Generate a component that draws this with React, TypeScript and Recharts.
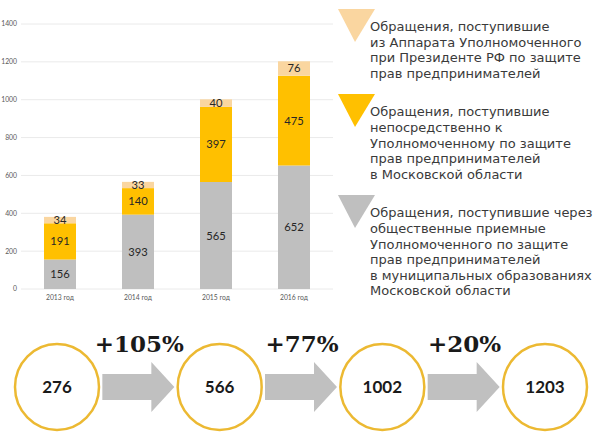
import React from 'react';
import {
  BarChart,
  Bar,
  XAxis,
  YAxis,
  CartesianGrid,
  LabelList,
  Legend,
  ScatterChart,
  Scatter,
} from 'recharts';

// ---- data ----
const categories = ['2013 год', '2014 год', '2015 год', '2016 год'];
const viaReception = [156, 393, 565, 652];
const directToOmbudsman = [191, 140, 397, 475];
const fromFederalOffice = [34, 33, 40, 76];
const yTicks = [0, 200, 400, 600, 800, 1000, 1200, 1400];
const totals = [276, 566, 1002, 1203];
const growth = ['+105%', '+77%', '+20%'];

const nameFederal =
  'Обращения, поступившие\nиз Аппарата Уполномоченного\nпри Президенте РФ по защите\nправ предпринимателей';
const nameDirect =
  'Обращения, поступившие\nнепосредственно к\nУполномоченному по защите\nправ предпринимателей\nв Московской области';
const nameReception =
  'Обращения, поступившие через\nобщественные приемные\nУполномоченного по защите\nправ предпринимателей\nв муниципальных образованиях\nМосковской области';

// ---- styles ----
const COLOR_PEACH = '#FAD6A0';
const COLOR_GOLD = '#FFC000';
const COLOR_GRAY = '#BFBFBF';
const TEXT_FONT = '"DejaVu Sans", sans-serif';
const NUM_FONT = 'Lato, sans-serif';

const table = categories.map((year, i) => ({
  year,
  reception: viaReception[i],
  direct: directToOmbudsman[i],
  federal: fromFederalOffice[i],
}));

const legendItems = [
  { name: nameFederal, color: COLOR_PEACH },
  { name: nameDirect, color: COLOR_GOLD },
  { name: nameReception, color: COLOR_GRAY },
];

const circleData = totals.map((total, i) => ({ x: i, y: 0, total }));
const arrowData = growth.map((g, i) => ({ x: i + 0.5, y: 0, growth: g }));

const LegendContent = () => (
  <div style={{ fontFamily: TEXT_FONT, fontSize: 13, color: '#3A3A3A' }}>
    {legendItems.map((item, idx) => (
      <div key={idx} style={{ position: 'relative', paddingTop: 10, marginBottom: 13 }}>
        <svg width={40} height={36} style={{ position: 'absolute', left: 5, top: 0 }}>
          <polygon points="0,0 37,0 17,33" fill={item.color} />
        </svg>
        <div
          style={{
            position: 'relative',
            marginLeft: 37,
            whiteSpace: 'pre-line',
            lineHeight: '15.6px',
          }}
        >
          {item.name}
        </div>
      </div>
    ))}
  </div>
);

const CircleMark = (props: any) => {
  const { cx, cy, payload } = props;
  return (
    <g>
      <ellipse cx={cx} cy={cy} rx={42} ry={43} fill="#fff" stroke="#ECB932" strokeWidth={2.5} />
      <text
        x={cx}
        y={cy + 6}
        textAnchor="middle"
        fontFamily={NUM_FONT}
        fontWeight={700}
        fontSize={17}
        fill="#1A1A1A"
      >
        {payload.total}
      </text>
    </g>
  );
};

const ArrowMark = (props: any) => {
  const { cx, cy, payload } = props;
  const pts = [
    [cx - 36, cy - 13],
    [cx + 13, cy - 13],
    [cx + 13, cy - 25],
    [cx + 36, cy],
    [cx + 13, cy + 25],
    [cx + 13, cy + 13],
    [cx - 36, cy + 13],
  ]
    .map((p) => p.join(','))
    .join(' ');
  return (
    <g>
      <polygon points={pts} fill="#C0C0C0" />
      <text
        x={cx + 1}
        y={cy - 35}
        textAnchor="middle"
        fontFamily='"DejaVu Serif", serif'
        fontWeight={700}
        fontSize={23}
        fill="#1A1A1A"
      >
        {payload.growth}
      </text>
    </g>
  );
};

export default function App() {
  const labelStyle = { fontFamily: NUM_FONT, fontSize: 11.2, fill: '#262626' };
  const tickStyle = { fontSize: 6.8, fill: '#595959', fontFamily: NUM_FONT };
  return (
    <div
      style={{
        position: 'absolute',
        left: 0,
        top: 0,
        width: 600,
        height: 435,
        background: '#fff',
        overflow: 'hidden',
      }}
    >
      <BarChart
        width={600}
        height={305}
        data={table}
        margin={{ top: 24, right: 267, bottom: 0, left: 0 }}
        barSize={32}
      >
        <CartesianGrid vertical={false} stroke="#EAEAEA" />
        <XAxis
          dataKey="year"
          tickLine={false}
          axisLine={false}
          height={16}
          tickSize={4}
          tickMargin={2}
          tick={tickStyle}
        />
        <YAxis
          width={21}
          domain={[0, 1400]}
          ticks={yTicks}
          tickLine={false}
          axisLine={false}
          tickSize={2}
          tickMargin={2}
          tick={tickStyle}
        />
        <Legend
          layout="horizontal"
          align="center"
          verticalAlign="middle"
          wrapperStyle={{ left: 333, top: 9, width: 267 }}
          content={<LegendContent />}
        />
        <Bar dataKey="reception" name={nameReception} stackId="s" fill={COLOR_GRAY} isAnimationActive={false}>
          <LabelList dataKey="reception" position="center" style={labelStyle} />
        </Bar>
        <Bar dataKey="direct" name={nameDirect} stackId="s" fill={COLOR_GOLD} isAnimationActive={false}>
          <LabelList dataKey="direct" position="center" style={labelStyle} />
        </Bar>
        <Bar dataKey="federal" name={nameFederal} stackId="s" fill={COLOR_PEACH} isAnimationActive={false}>
          <LabelList dataKey="federal" position="center" style={labelStyle} />
        </Bar>
      </BarChart>
      <div style={{ position: 'absolute', left: 0, top: 325 }}>
        <ScatterChart width={600} height={110} margin={{ top: 0, right: 55, bottom: 48, left: 57 }}>
          <XAxis type="number" dataKey="x" domain={[0, 3]} hide />
          <YAxis type="number" dataKey="y" domain={[0, 1]} hide />
          <Scatter data={arrowData} shape={(p: any) => <ArrowMark {...p} />} isAnimationActive={false} />
          <Scatter data={circleData} shape={(p: any) => <CircleMark {...p} />} isAnimationActive={false} />
        </ScatterChart>
      </div>
    </div>
  );
}
